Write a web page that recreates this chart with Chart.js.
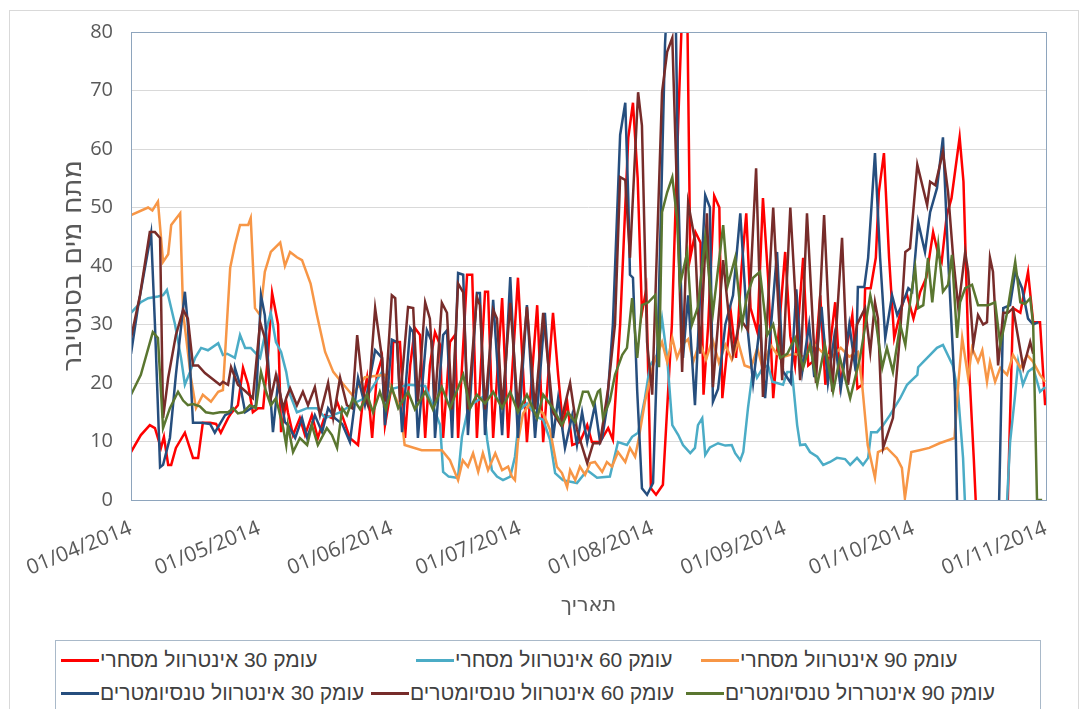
<!DOCTYPE html>
<html>
<head>
<meta charset="utf-8">
<script src="https://cdn.jsdelivr.net/npm/chart.js@4.4.1/dist/chart.umd.min.js"></script>
<style>
  html, body { margin: 0; padding: 0; background: #fff; overflow: hidden; }
  #wrap { position: relative; width: 1086px; height: 709px; }
  #frame { position: absolute; left: 9px; top: 10px; width: 1070px; height: 720px; border: 1px solid #D9D9D9; box-sizing: border-box; }
  #legend { position: absolute; left: 55px; top: 640px; width: 986px; height: 80px; border: 1px solid #A9B9C9; box-sizing: border-box; background: #fff; }
  .item { position: absolute; height: 30px; display: flex; align-items: center; font-family: "Liberation Sans", Arial, sans-serif; font-size: 21px; color: #404040; white-space: nowrap; }
  .swatch { width: 38px; height: 3px; margin-right: 1px; }
</style>
</head>
<body>
<div id="wrap">
  <div id="frame"></div>
  <canvas id="chart" width="1086" height="709"></canvas>
  <div id="legend"></div>
</div>
<script>
// ימים מ-01/04/2014, ערכים במתח מים (סנטיבר)
const monthDays = [0, 30, 61, 91, 122, 153, 183, 214];
const monthLabels = ['01/04/2014', '01/05/2014', '01/06/2014', '01/07/2014', '01/08/2014', '01/09/2014', '01/10/2014', '01/11/2014'];

const seriesNames = [
  'עומק 30 אינטרוול מסחרי',
  'עומק 60 אינטרוול מסחרי',
  'עומק 90 אינטרוול מסחרי',
  'עומק 30 אינטרוול טנסיומטרים',
  'עומק 60 אינטרוול טנסיומטרים',
  'עומק 90 אינטררול טנסיומטרים'
];
const seriesColors = ['#FF0000', '#4BACC6', '#F79646', '#264E7E', '#772C2A', '#5A7630'];

// [יום, ערך]
const red30 = [[0,8.2],[2.3,11.1],[4.4,12.8],[5.6,12.3],[7,8.9],[7.7,10.8],[8.7,6],[9.4,6],[10.5,8.9],[12.6,11.5],[14.5,7.2],[15.7,7.2],[16.8,13.2],[18.5,13.2],[19.9,13],[21,11.5],[22.7,14],[23.4,14.8],[25,16.2],[26.2,22.6],[27.4,19.7],[28.5,15],[29.7,15.7],[30.9,15.7],[32,24.3],[33,35.4],[34.4,30],[35.1,11.6],[36.3,16.8],[36.7,15],[37.9,11.1],[39.5,14],[40.7,11.1],[42.3,14.5],[43.7,10.6],[45.4,14.5],[47,14],[48.2,16.8],[49.6,14],[51.2,10.6],[53.1,9.4],[54.3,17.4],[55.2,20.9],[56.4,10.6],[57.5,21.4],[58.7,24.3],[59.4,12.8],[61,19.7],[61.3,27],[62.9,27],[64.1,10.6],[65.3,23],[66.4,29.4],[67.6,28.2],[68.8,10.6],[69.9,23],[71.1,28.7],[72.3,26.5],[73,10.6],[74.6,27],[75.8,28.2],[76.5,10.6],[78.6,38.5],[79.8,38.5],[80.9,10.6],[82.8,35.6],[83.5,35.6],[84.7,10.6],[86.8,34.5],[88.2,10.6],[90.5,38],[92.6,9.9],[95,33.3],[96.4,9.9],[98.7,32],[99.9,21.4],[101,12.8],[102,16.8],[103.2,9.4],[105,9.9],[106.7,12.8],[107.8,9.9],[109.7,9.9],[111.6,12.3],[112.7,10.3],[114.4,30],[116.3,61.9],[117.4,67.9],[118.5,55],[119.5,32],[120.5,36],[121.6,2],[122.8,0.9],[124.4,2.6],[126.5,30],[128,65],[129.2,90],[130,90],[130.8,41.4],[132,45.8],[133.2,44],[133.9,18],[135,30],[136.4,52],[137.6,50],[138.3,17.4],[140.3,32],[141.5,24.3],[142.8,39.7],[143.9,49],[144.9,32.8],[146.5,28.7],[147.8,51.6],[149,38],[150.2,17.4],[151.3,27],[153,42.4],[154.2,28],[155.3,23],[157.2,41.4],[158.4,23],[160,24],[161.2,35],[162.4,19.7],[164.7,33.8],[165.9,19.7],[168.7,31.6],[169.9,19.1],[171,19.7],[171.7,36.2],[173,36.2],[174.2,41.4],[174.9,52.6],[176.1,59.3],[177.3,41.4],[178.5,27.7],[179.6,31],[180.8,34.5],[181.5,35],[183,31],[184.6,35.6],[186,38],[187.6,45.8],[188.8,42],[189.6,40.7],[190.8,48.7],[191.9,51.6],[193.8,62],[194.7,54.4],[195.9,24.3],[197.1,7.2],[198.5,-15],[204.5,-15],[206.3,32.8],[208,32],[209.8,39],[211,30.4],[212.6,30.4],[213.8,16.2]];

const blue60 = [[0,32],[2.3,33.8],[4,34.5],[6.3,34.8],[7.5,35],[8.4,35.9],[10.3,30],[11.7,24.3],[12.6,19.7],[13.8,21.9],[15,24.3],[16.4,26],[18,25.6],[20.4,26.8],[21.5,24.8],[22.5,25],[24.3,24.3],[25.5,28.2],[26.7,26],[28,26],[30.2,24.3],[31.3,28.2],[32.7,32],[33.9,27],[35.1,25.3],[36.3,21.9],[37.2,18],[38.8,15],[41.2,15.7],[43.5,15.7],[45.4,14],[49,15],[52,16.5],[55,17.5],[58.7,21.9],[61,19],[64.8,19.7],[68.8,19.5],[72.3,12.8],[73,4.8],[74.3,4],[76.1,3.8],[76.5,4],[77.4,10.8],[78.6,14.8],[80,16.5],[82.3,17.6],[83.3,10.3],[84.4,5.1],[85.6,4],[87,3.4],[88.7,4],[89.8,7.4],[91,15.4],[92.6,16.5],[95,14.2],[96.4,13.7],[98,10.3],[99.2,4.6],[101,3.4],[104.3,2.9],[106.7,5.1],[109,3.8],[112,4],[113.9,9.9],[116,9.4],[117.2,10.8],[118.6,11.5],[120.2,17.4],[121.4,23],[123,24.8],[124.2,31],[125.4,24.3],[126.6,12.8],[128,11.1],[129.1,9.4],[130.8,8],[131.9,8.9],[132.6,12.8],[133.6,14],[134.3,7.7],[135.4,9],[137.3,9.7],[139,9.3],[140.5,9.4],[141.3,8],[142.5,6.8],[143.2,8.2],[144.3,15.7],[145.3,21.4],[146,21.9],[146.4,20.9],[147.8,22.6],[149,23],[150,20.2],[152.5,19.7],[153.5,21.9],[154.6,21.9],[155.8,12.8],[156.5,9.4],[157.7,9.5],[158.8,8.2],[160.5,7.4],[161.9,6],[163.5,6.5],[165.1,7.2],[167,7],[168.2,6],[169.8,7.2],[171.2,6],[172.4,7.2],[173.1,11.6],[174.5,11.6],[175.9,12.8],[177.5,14.5],[179.9,17.4],[181.5,19.7],[182.2,20.2],[183.9,21.4],[184.1,22.7],[185.3,23.6],[186.9,24.8],[188.5,26],[189.9,26.5],[192.2,23],[193.4,18.5],[194.6,7.2],[195.6,-10],[204.2,-10],[205.6,9.9],[206.7,17.4],[207.5,23.6],[208.6,19.7],[209.8,21.9],[211,22.6],[212.6,18.5],[213.8,19.3]];

const orange90 = [[0,48.7],[4,50],[5,49.5],[6.3,51],[7.5,40.7],[8.7,42],[9.4,47],[11.5,49],[12.2,32],[14,21],[15.2,15.7],[16.8,18],[18.7,16.8],[20.4,18.5],[21.5,18.8],[23.2,39.7],[24.3,43.6],[25.5,47],[27.4,47],[28,48.2],[29,32.8],[30.2,31.6],[31.3,39],[32.7,42.4],[34.9,44],[36,40],[37.2,42.4],[38.8,41.5],[40,41],[42,37],[43.5,31.6],[45.4,25.3],[47.3,21.9],[49.4,20],[51.7,18],[54.7,21],[59.4,21.4],[63,15.7],[64,9.4],[68,8.5],[72.7,8.5],[74.6,6.8],[76.5,3.4],[77.6,6.8],[78.8,5.7],[80,8],[81.2,4.8],[82.3,8],[83.5,5.1],[85.2,8],[86.8,5.1],[88.2,5.7],[89.1,4],[89.8,3.4],[90.5,10],[91.7,14.8],[93.3,16.5],[96.4,14.8],[98,12],[99.6,5.7],[100.8,4.6],[102,2.2],[102.7,5.1],[103.9,3.4],[105,5.7],[106.2,4.3],[107.4,6.3],[108.5,6.5],[110.2,4.8],[111.3,6.5],[112.5,5.7],[113.9,8.2],[115.6,6.5],[116.7,8.9],[117.9,7.4],[118.6,9.9],[120.2,16.8],[122.1,23],[124.2,27],[125.4,23.6],[126.6,27.7],[127.7,24.3],[128.9,26.5],[130.3,27.5],[131.5,23.6],[133,27],[134.5,24],[136,27.5],[137.5,23.5],[139,26.5],[140.5,24],[142,27],[143.5,23],[145,22.6],[146.5,26],[147.7,22.6],[149.6,26.5],[151,25],[152.7,24.5],[155,25],[157.5,24.5],[160,26.5],[162,25],[164,24.5],[166,26],[168,24.5],[170,25.3],[171,19.7],[172.3,9.4],[174,3.8],[174.7,8.2],[176.8,8.9],[179.1,7.2],[180.3,5.5],[181,0.3],[182.5,8.2],[184.4,8.5],[186.7,8.9],[189.1,9.7],[192.6,10.6],[193.5,20],[194.4,27.7],[195.8,20.9],[196.7,26],[198.1,23.6],[199.1,25.6],[200.2,20.2],[200.9,23.6],[202.1,20.2],[203.3,22.6],[204.9,21.4],[206.3,24.8],[208,22.6],[209.6,24.8],[211,23.6],[212.6,21.4],[213.8,20.2]];

const navy30 = [[0,25],[1.6,32.8],[4.7,45.6],[5.6,30],[6.8,5.6],[7.5,6],[9.1,10.6],[10.5,21.4],[12.6,35.6],[13.3,30],[14.5,13.2],[16.4,13.2],[18.5,13],[19.6,11.5],[20.8,13],[22,14.5],[23.4,15],[24.3,22.6],[25.5,19.7],[26.7,15],[28.1,15.7],[29.2,16.2],[30.4,35],[31.3,31.6],[32,24.3],[33.2,11.6],[34.4,20.2],[36,13.3],[36.7,12.8],[38.4,10.6],[40,14],[41.2,10.6],[43,14.5],[44.7,11.6],[46.1,15.7],[47.7,14],[49.4,13],[51.2,9.9],[53.1,20.9],[54.7,16.2],[57.1,25.6],[58.7,24.3],[59.4,12.8],[61,27.4],[62.2,27],[63.4,11.6],[65.3,29.4],[66,28.7],[67.1,10.6],[69.2,29],[70.4,27],[71.1,10.6],[73,28.2],[73.9,29],[75.1,10.6],[76.5,38.8],[77.7,38.5],[78.8,11.1],[80.9,35.4],[81.6,35.4],[82.8,11.1],[84.7,34.2],[86.8,11.1],[88.7,38.1],[90.5,10.6],[92.6,33.3],[94.5,10.6],[96.8,32],[98.7,10.6],[99.9,17.4],[101.5,8.9],[103.2,14.5],[104.3,9.4],[105.5,15],[106.7,9.9],[108.5,16.2],[109.7,9.9],[110.2,10.6],[111.3,15.7],[112.7,30],[114.4,62.4],[115.6,67.9],[116.3,51.6],[116.7,38.5],[117.4,38],[118.4,18.5],[119.5,2],[120.7,0.9],[122.1,2.9],[123.3,30],[124.9,78],[125.6,88],[127.3,88],[128,52.6],[129.1,24.3],[130.3,35],[131.9,16.2],[133.1,35],[134.3,52.1],[135.4,50],[136.1,16.8],[137.3,19],[139,30],[140.8,35],[142.5,49],[144.1,30],[145.5,20],[147.1,30],[148.3,17.4],[151.1,42.4],[152.5,22],[154.3,20],[155.6,36],[157,22],[158.6,30],[159.8,21],[161.5,33],[163,20],[164.5,28],[166,19],[168,30],[169.5,22],[170,36.4],[171.5,36.4],[172.4,41.4],[174,59.3],[175.2,41.4],[176.4,27.7],[178,35],[179.2,31.6],[180.6,33.8],[181.8,36.2],[182.7,35.6],[184.1,47.5],[185.7,42.4],[186.9,49.2],[188.5,53.3],[189.9,62],[191.1,41.4],[192.7,18.5],[193.6,-15],[202.6,-15],[204,32.8],[205.6,33.3],[206.8,39],[208.4,36.2],[209.8,31],[211,30],[212.2,30.4]];

const maroon60 = [[0,27.7],[2.1,35],[4.4,45.8],[5.6,45.8],[6.8,44.8],[7.5,14],[8.7,20.9],[10.5,28.2],[12.2,32.5],[13.3,31],[14.5,23],[15.7,23],[17.3,21.7],[18.7,20.9],[20.8,19.7],[21.5,20.2],[22.7,19.7],[23.4,22.7],[25,19.7],[26.9,18.5],[28.5,17.4],[30.2,30.4],[31.3,27.7],[32.7,17.4],[33.9,21.4],[35.6,15.7],[36.3,17.4],[37.2,19.1],[38.8,16.2],[40.2,18.5],[41.4,16.2],[43,19.3],[44.2,14.5],[46.1,20],[47.3,14],[48.9,20.9],[50.5,16.2],[51.7,15.7],[52.9,28.2],[54.3,18.5],[55.4,16.2],[57.1,32.8],[58.7,24.3],[59.4,16.8],[61,35],[61.8,34.5],[62.9,16.8],[64.8,33],[66,32.8],[67.1,16.8],[68.8,33.8],[69.9,31],[71.1,16.8],[72.7,33.7],[73.9,32],[75.1,15.5],[76.5,37],[77.7,35.5],[78.8,15.5],[80.9,34.7],[81.6,33.3],[82.8,15.5],[84.7,32.5],[85.6,31],[86.8,15.5],[88.7,33.7],[90.5,15.5],[92.6,33],[94.5,15.5],[96.4,32],[98.7,15],[100.4,13],[102.7,20],[104.3,12],[106.7,6.3],[108.1,9.7],[109.7,9.7],[111.6,19.1],[113.2,30],[114.4,55.2],[115.6,54.7],[116.7,41.4],[118.6,69.7],[119.5,64],[120.7,27],[121.9,18],[124.2,69.7],[125.4,76.6],[126.6,79],[127.7,52.6],[128.9,21.9],[130.3,50.8],[131.9,44.4],[133.1,25],[134.7,49],[136.1,19.3],[138.5,41],[139.6,33],[140.8,25],[142.5,31],[144.3,29],[146.2,56.7],[147.8,17.6],[150.2,50],[152.3,20.5],[154.2,50],[156.5,20.5],[158.1,49],[160.2,20],[162.1,48.7],[164,18.5],[166.3,44.8],[167.7,19.7],[169.8,30],[171.7,32.8],[172.9,25.3],[174,33.8],[174.7,31],[175.9,8.9],[178.2,14],[179.9,28.7],[181.1,42.4],[182.2,43],[183.9,57.3],[186.2,50.4],[186.9,54.4],[188.1,53.8],[189.9,59.5],[191.1,52.6],[192.3,41.4],[193.5,32.8],[195.1,42.4],[195.8,39],[197,26.5],[198.1,31.6],[199.3,30],[200.2,30.4],[200.9,41.4],[201.6,39],[202.8,23],[204,32],[205.1,32],[206.3,32.8],[208.7,22.6],[210.3,27],[211,25]];

const olive90 = [[0,18],[2.3,21.4],[5.1,28.7],[6.3,27.7],[7.5,12.3],[9.1,15.7],[11,18.5],[12.2,17],[13.3,16.2],[14.5,16.4],[16.1,16],[17.5,15],[19.2,14.8],[20.8,15],[22.7,15],[23.9,15.7],[25,14.8],[26.2,15],[27.8,16.2],[29.2,15.7],[30.4,21.9],[31.6,18.5],[32.7,16.2],[33.9,17.4],[35.6,12.3],[36.3,9.4],[36.7,12.8],[37.9,8.2],[39.5,10.6],[41.2,9.4],[42.3,12.8],[43.7,9.4],[45.8,12.3],[47,11.1],[48.2,8.9],[49.4,15.7],[50.5,14.5],[51.9,17.4],[53.6,15.5],[55.2,18],[56.6,15],[58.2,18.5],[59.6,15.5],[61,19.3],[62.5,15.7],[64.8,18.5],[66.4,15.5],[68.8,18.5],[70.6,15.5],[72.7,19.3],[74.6,15.7],[77.7,21.4],[79.3,15.7],[80.9,18],[82.8,16.5],[84.7,18.5],[86.8,15.7],[88.7,18.5],[90.5,15],[92.6,18],[95,14],[96.4,18],[98.7,15.7],[100.8,12.8],[102.2,15],[103.9,13.3],[105.7,18.5],[106.9,18.5],[108.1,16.2],[109.2,18.5],[109.7,18.8],[110.4,14],[112,17],[113.2,21.4],[114.9,24.8],[116,26],[117.2,34.5],[118.4,24.3],[119.5,33.3],[121,33.8],[122.6,35],[123.5,22.7],[124.2,49.2],[125.4,52.6],[126.6,55.2],[127.7,48.2],[128.4,36.8],[130.1,42.4],[131.2,30],[132.6,33],[134.3,44.8],[136.1,32],[138.5,47],[139.6,36.8],[141.3,41.4],[142.9,30],[144.1,35],[145.5,38],[147.1,39],[148.8,28.2],[150.2,30],[151.8,24.3],[153.5,25],[155.3,27.7],[157.2,22.6],[158.8,26.5],[160.5,19.7],[162.3,26.5],[164.2,18.5],[165.8,24.3],[168.2,17.4],[170.5,24.3],[172.9,35],[174.3,30],[175.7,22.6],[176.8,26],[178.2,21.9],[179.9,30],[181.1,26.5],[182.2,33.8],[183.4,39.7],[184.1,32.8],[185.3,33.3],[186.4,41.4],[187.4,33.8],[188.8,43.6],[189.9,35.6],[191.1,36.8],[192,41.9],[193.2,27.7],[193.9,33.8],[195.1,36.2],[196.7,36.8],[198.1,33.3],[200.5,33.3],[202.1,33.8],[203.3,26.5],[204.9,32],[206.8,40.7],[208,33.8],[209.1,33.5],[210.3,34.5],[211,30],[211.9,0],[213.1,0]];

const allSeries = [red30, blue60, orange90, navy30, maroon60, olive90];

// מסגרת אזור השרטוט
const plotBorder = {
  id: 'plotBorder',
  afterDraw(chart) {
    const a = chart.chartArea;
    const ctx = chart.ctx;
    ctx.save();
    ctx.strokeStyle = '#8EA5BD';
    ctx.lineWidth = 1;
    ctx.strokeRect(Math.round(a.left) + 0.5, Math.round(a.top) + 0.5, Math.round(a.right - a.left), Math.round(a.bottom - a.top));
    ctx.restore();
  }
};

const datasets = allSeries.map((s, i) => ({
  label: seriesNames[i],
  data: s.map(p => ({ x: p[0], y: p[1] })),
  borderColor: seriesColors[i],
  backgroundColor: seriesColors[i],
  borderWidth: 2.5,
  pointRadius: 0,
  tension: 0,
  order: allSeries.length - i
}));

new Chart(document.getElementById('chart'), {
  type: 'line',
  data: { datasets: datasets },
  options: {
    responsive: false,
    animation: false,
    layout: { padding: { left: 52, top: 32, right: 40, bottom: 79 } },
    plugins: { legend: { display: false }, tooltip: { enabled: false } },
    scales: {
      x: {
        type: 'linear',
        min: 0,
        max: 214,
        afterBuildTicks: s => { s.ticks = monthDays.map(v => ({ value: v })); },
        afterFit: s => { s.height = 130; },
        ticks: {
          autoSkip: false,
          maxRotation: 22,
          minRotation: 22,
          padding: 8,
          color: '#595959',
          font: { family: 'Open Sans', size: 21 },
          callback: v => monthLabels[monthDays.indexOf(v)]
        },
        grid: { display: false },
        border: { color: '#D9D9D9' },
        title: {
          display: true,
          text: 'תאריך',
          color: '#595959',
          font: { family: 'DejaVu Sans', size: 21 },
          padding: { top: 4, bottom: 12 }
        }
      },
      y: {
        min: 0,
        max: 80,
        afterFit: s => { s.width = 79; },
        ticks: {
          stepSize: 10,
          padding: 18,
          color: '#595959',
          font: { family: 'Open Sans', size: 20 }
        },
        grid: { color: '#D9D9D9', drawTicks: false },
        border: { display: false },
        title: {
          display: true,
          text: 'מתח מים בסנטיבר',
          color: '#595959',
          font: { family: 'DejaVu Sans', size: 27 },
          padding: { top: 6, bottom: 0 }
        }
      }
    }
  },
  plugins: [plotBorder]
});

// מקרא
const legendPos = [[5, 4], [360, 4], [645, 4], [5, 37], [315, 37], [630, 37]];
const legendEl = document.getElementById('legend');
seriesNames.forEach((name, i) => {
  const item = document.createElement('div');
  item.className = 'item';
  item.style.left = legendPos[i][0] + 'px';
  item.style.top = legendPos[i][1] + 'px';
  const sw = document.createElement('span');
  sw.className = 'swatch';
  sw.style.background = seriesColors[i];
  const tx = document.createElement('span');
  tx.dir = 'rtl';
  tx.textContent = name;
  item.appendChild(sw);
  item.appendChild(tx);
  legendEl.appendChild(item);
});
</script>
</body>
</html>
